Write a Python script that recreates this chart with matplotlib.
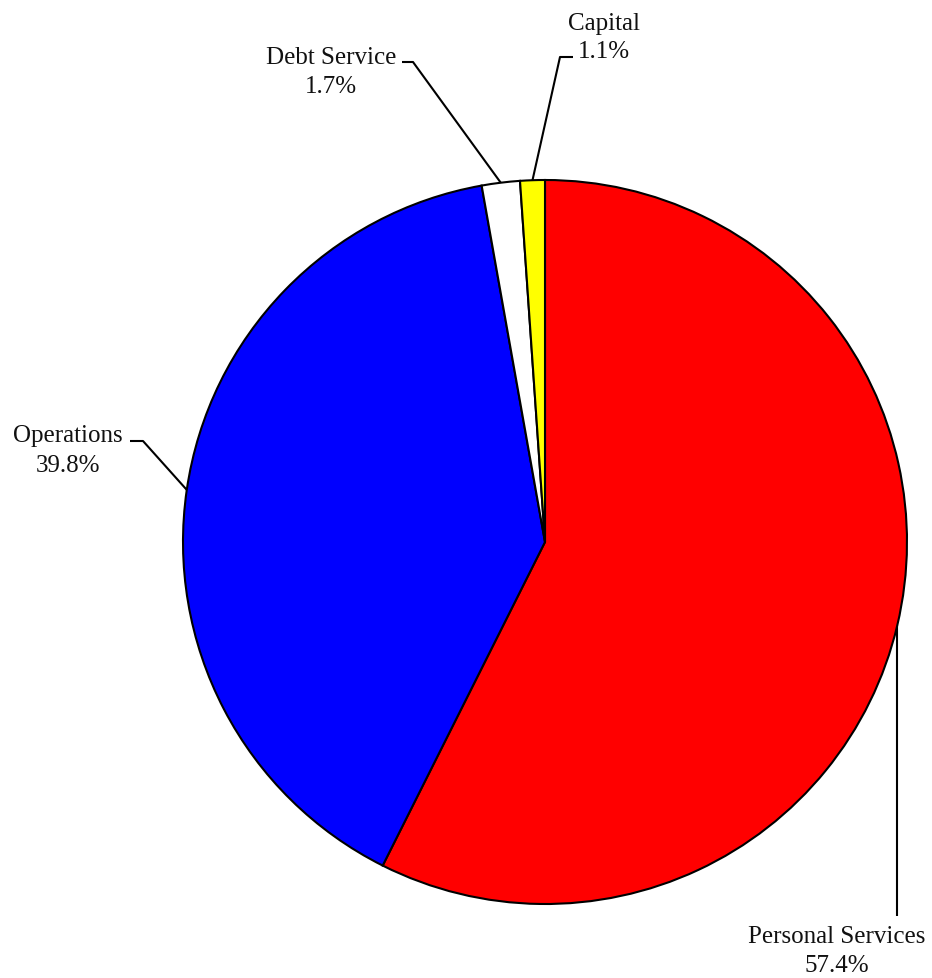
import numpy as np
import matplotlib
matplotlib.use("Agg")
import matplotlib.pyplot as plt

categories = ["Personal Services", "Operations", "Debt Service", "Capital"]
values = [57.4, 39.8, 1.7, 1.1]
pct_labels = ["57.4%", "39.8%", "1.7%", "1.1%"]
colors = ["#FF0000", "#0000FF", "#FFFFFF", "#FFFF00"]

W, H = 932, 979
fig = plt.figure(figsize=(W / 100, H / 100), dpi=100)
ax = fig.add_axes([0, 0, 1, 1])
ax.set_xlim(0, W)
ax.set_ylim(0, H)
ax.axis("off")

def py(y):
    return H - y

cx, cy, R = 545, 543, 362
wedges, _ = ax.pie(values, colors=colors, startangle=90, counterclock=False,
                   center=(cx, py(cy)), radius=R,
                   wedgeprops=dict(edgecolor="black", linewidth=1.5),
                   frame=True)
ax.set_xlim(0, W)
ax.set_ylim(0, H)
ax.set_aspect("equal")
ax.axis("off")

font = dict(family=["Liberation Serif", "DejaVu Serif"], fontsize=18, color="#111111")

# label layout: (center x, baseline y line1, baseline y line2) in pixels
label_pos = {
    "Personal Services": (837, 943, 972),
    "Operations": (68, 442, 472),
    "Debt Service": (331, 64, 93),
    "Capital": (604, 30, 58),
}
# leader elbows: list of pixel points from text to the pie
elbows = {
    "Personal Services": [(897, 917)],
    "Operations": [(130, 442), (143, 442)],
    "Debt Service": [(402, 63), (413, 63)],
    "Capital": [(573, 58), (560, 58)],
}

for w, cat, pl in zip(wedges, categories, pct_labels):
    x0, b1, b2 = label_pos[cat]
    ax.text(x0, py(b1), cat, ha="center", va="baseline", **font)
    ax.text(x0, py(b2), pl, ha="center", va="baseline", **font)
    ang = np.deg2rad((w.theta1 + w.theta2) / 2)
    ex, ey = cx + R * np.cos(ang), py(cy) + R * np.sin(ang)
    pts = [(x, py(y)) for x, y in elbows[cat]]
    if cat == "Personal Services":
        xs = [ex, ex]
        ys = [ey, pts[0][1]]
    else:
        xs = [p[0] for p in pts] + [ex]
        ys = [p[1] for p in pts] + [ey]
    ax.plot(xs, ys, color="black", linewidth=1.5, solid_capstyle="butt", zorder=0)

fig.savefig("out.png", dpi=100, facecolor="white")
